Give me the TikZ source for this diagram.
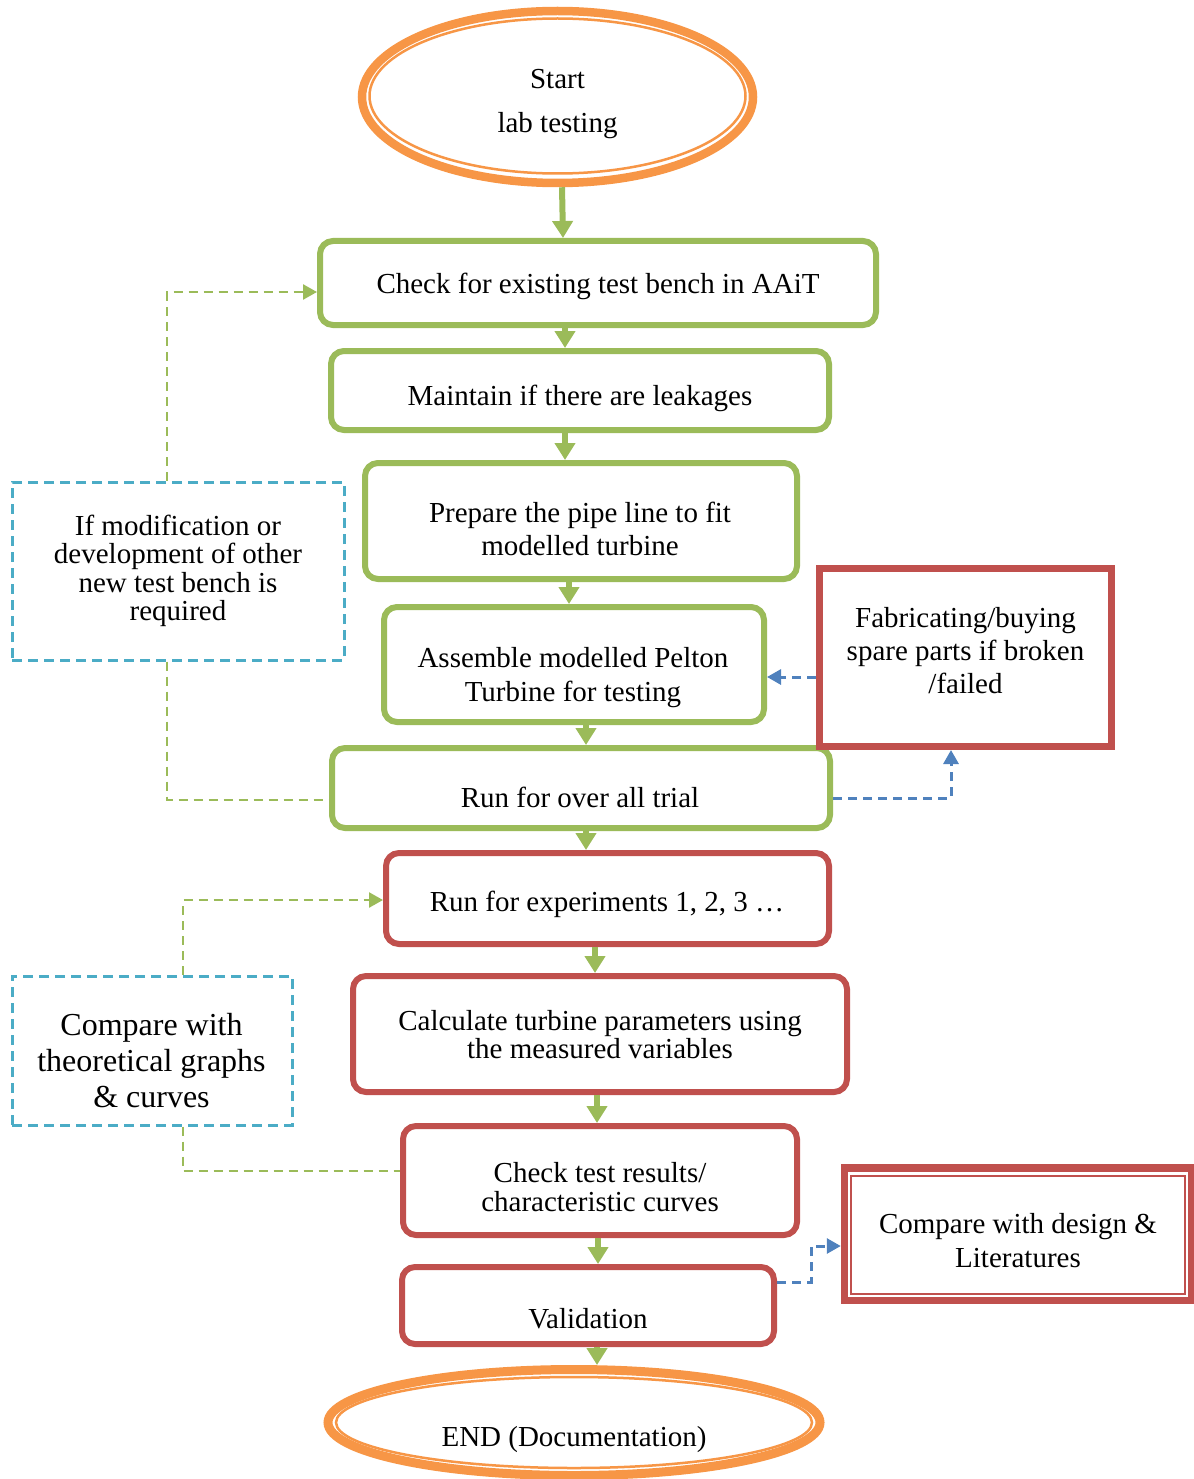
\documentclass[tikz,border=0pt]{standalone}
\usepackage{fontspec}
\setmainfont{Liberation Serif}
\usetikzlibrary{shapes.geometric,arrows.meta}
\definecolor{cgreen}{HTML}{9BBB59}
\definecolor{cred}{HTML}{C0504D}
\definecolor{corange}{HTML}{F79646}
\definecolor{ccyan}{HTML}{4BACC6}
\definecolor{cblue}{HTML}{4F81BD}
\begin{document}
\begin{tikzpicture}[x=1pt,y=-1pt,
  gbox/.style={draw=cgreen, line width=6pt, rounded corners=13pt, fill=white, inner sep=0pt},
  rbox/.style={draw=cred, line width=6pt, rounded corners=13pt, fill=white, inner sep=0pt},
  sqbox/.style={draw=cred, line width=7pt, fill=white, inner sep=0pt},
  dbox/.style={draw=ccyan, line width=3pt, dash pattern=on 10pt off 6pt, inner sep=0pt},
  oval/.style={ellipse, draw=corange, fill=white, inner sep=0pt},
  txt/.style={font=\fontsize{29}{33}\selectfont, align=center, inner sep=0pt, anchor=base},
  flow/.style={draw=cgreen, line width=6pt, -{Triangle[length=17pt,width=20pt]}},
  gdash/.style={draw=cgreen, line width=2.5pt, dash pattern=on 9pt off 6pt},
  bdash/.style={draw=cblue, line width=3pt, dash pattern=on 9pt off 6pt},
  dtip/.style={-{Triangle[length=14pt,width=15pt]}},
]
\useasboundingbox (0,0) rectangle (1193,1479);

% ovals
\node[oval, line width=8.5pt, minimum width=391pt, minimum height=172pt] (st) at (557.5,97) {};
\draw[corange, line width=2.5pt] (557.5,96) ellipse [x radius=188pt, y radius=77.5pt];
\node[oval, line width=9pt, minimum width=492pt, minimum height=106pt] (en) at (574,1422.5) {};
\draw[corange, line width=2.5pt] (574,1422.5) ellipse [x radius=238pt, y radius=45.5pt];

% main boxes
\node[gbox, minimum width=556pt, minimum height=84pt] (b1) at (598,283) {};
\node[gbox, minimum width=498pt, minimum height=79pt] (b2) at (580,390.5) {};
\node[gbox, minimum width=432pt, minimum height=116pt] (b3) at (581,521) {};
\node[gbox, minimum width=380pt, minimum height=115pt] (b4) at (574,664.5) {};
\node[gbox, minimum width=498pt, minimum height=80pt] (b5) at (581,788) {};
\node[rbox, minimum width=443pt, minimum height=91pt] (b6) at (607.5,898.5) {};
\node[rbox, minimum width=494pt, minimum height=116pt] (b7) at (600,1034) {};
\node[rbox, minimum width=394pt, minimum height=109pt] (b8) at (600,1180.5) {};
\node[rbox, minimum width=372pt, minimum height=77pt] (b9) at (588,1305.5) {};

% side boxes
\node[dbox, minimum width=332pt, minimum height=178pt] (l1) at (178,571) {};
\node[dbox, minimum width=280pt, minimum height=149pt] (l2) at (152,1050.5) {};
\node[sqbox, minimum width=292pt, minimum height=178.5pt] (fab) at (965.5,657.25) {};
\node[sqbox, line width=7.5pt, minimum width=347pt, minimum height=132.3pt] (dbl) at (1018,1234.15) {};
\draw[cred, line width=2pt] (851,1175.5) rectangle (1185,1293.5);

% main flow arrows
\draw[flow] ([xshift=4.5pt]st.south) -- ([xshift=-35pt]b1.north);
\draw[flow] ([xshift=-33pt]b1.south) -- ([xshift=-15pt]b2.north);
\draw[flow] ([xshift=-15pt]b2.south) -- ([xshift=-16pt]b3.north);
\draw[flow] ([xshift=-12pt]b3.south) -- ([xshift=-5pt]b4.north);
\draw[flow] ([xshift=12pt]b4.south) -- ([xshift=5pt]b5.north);
\draw[flow] ([xshift=5pt]b5.south) -- ([xshift=-21.5pt]b6.north);
\draw[flow] ([xshift=-12.5pt]b6.south) -- ([xshift=-5pt]b7.north);
\draw[flow] ([xshift=-3pt]b7.south) -- ([xshift=-3pt]b8.north);
\draw[flow] ([xshift=-2pt]b8.south) -- ([xshift=10pt]b9.north);
\draw[flow] ([xshift=9pt]b9.south) -- ([xshift=23pt]en.north);

% dashed connectors
\draw[gdash, dtip] ([xshift=-11pt]l1.north) |- ([yshift=-9pt]b1.west);
\draw[gdash] ([xshift=-11pt]l1.south) |- ([yshift=-12pt]b5.west);
\draw[bdash, dtip] ([yshift=-19.75pt]fab.west) -- ([yshift=-12.5pt]b4.east);
\draw[bdash, dtip] ([yshift=-10pt]b5.east) -| ([xshift=-14.5pt]fab.south);
\draw[gdash, dtip] ([xshift=31pt]l2.north) |- ([yshift=-1.5pt]b6.west);
\draw[gdash] ([xshift=31pt]l2.south) |- ([yshift=9.5pt]b8.west);
\coordinate (k7) at (811,1246);
\draw[bdash, dtip] ([yshift=23.5pt]b9.east) -| (k7) -- ([yshift=-11.85pt]dbl.west);

% texts (anchor=base is the baseline of the last line)
\node[txt, font=\fontsize{29}{44}\selectfont] (t0) at (557.5,133) {Start\\lab testing};
\node[txt] (t1) at (598,293) {Check for existing test bench in AAiT};
\node[txt] (t2) at (580,405) {Maintain if there are leakages};
\node[txt, font=\fontsize{29}{33}\selectfont] (t3) at (580,555) {Prepare the pipe line to fit\\modelled turbine};
\node[txt, font=\fontsize{29}{34}\selectfont] (t4) at (573,701) {Assemble modelled Pelton\\Turbine for testing};
\node[txt] (t5) at (580,807) {Run for over all trial};
\node[txt] (t6) at (607,911) {Run for experiments 1, 2, 3 …};
\node[txt, font=\fontsize{29}{26}\selectfont] (t7) at (600,1058) {Calculate turbine parameters using\\the measured variables};
\node[txt, font=\fontsize{29}{29}\selectfont] (t8) at (600,1211) {Check test results/\\characteristic curves};
\node[txt] (t9) at (588,1328) {Validation};
\node[txt] (t10) at (574,1446) {END (Documentation)};
\node[txt, font=\fontsize{29}{28.5}\selectfont] (tl1) at (178,620.5) {If modification or\\development of other\\new test bench is\\required};
\node[txt, font=\fontsize{32}{36}\selectfont] (tl2) at (151.5,1107) {Compare with\\theoretical graphs\\\& curves};
\node[txt] (tfab) at (965.5,693) {Fabricating/buying\\spare parts if broken\\/failed};
\node[txt, font=\fontsize{29}{34}\selectfont] (tdbl) at (1018,1267) {Compare with design \&\\Literatures};
\end{tikzpicture}
\end{document}
